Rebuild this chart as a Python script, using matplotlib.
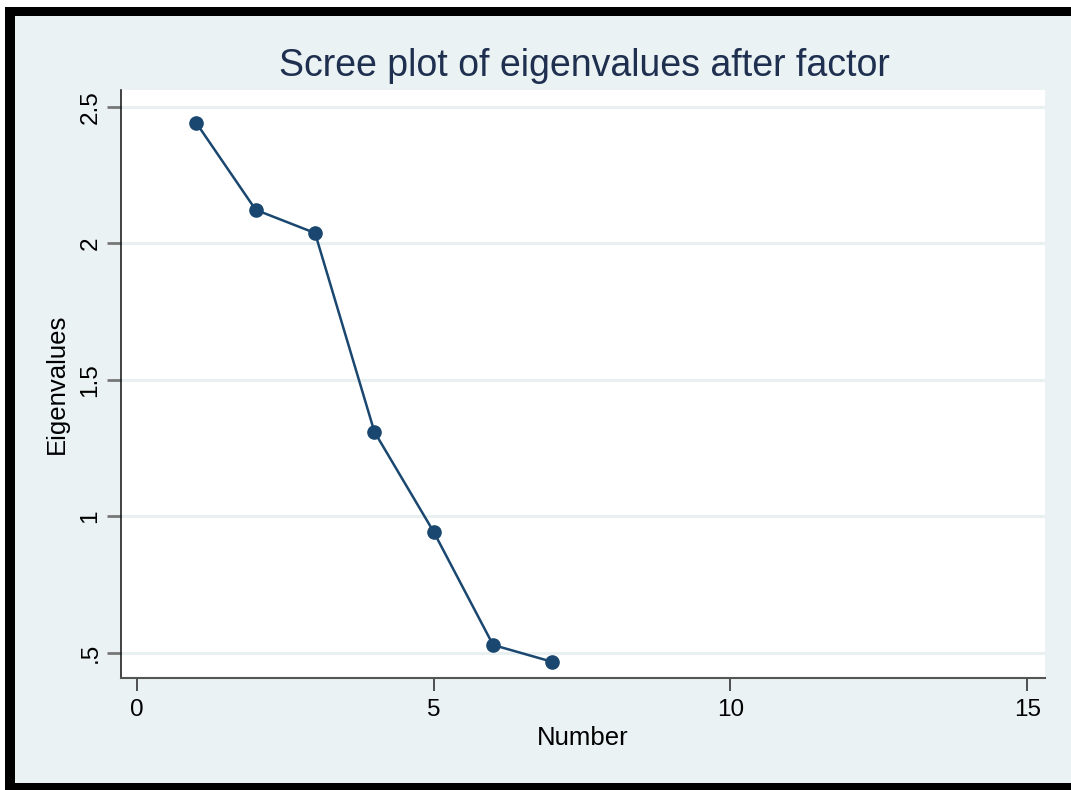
import matplotlib
matplotlib.use("Agg")
import matplotlib.pyplot as plt
from matplotlib.patches import Rectangle

plt.rcParams["font.family"] = ["Liberation Sans", "DejaVu Sans"]

# scree plot values
numbers = [1, 2, 3, 4, 5, 6, 7]
eigenvalues = [2.441, 2.123, 2.038, 1.310, 0.943, 0.529, 0.467]
x_ticks = [0, 5, 10, 15]
y_ticks = [0.5, 1, 1.5, 2, 2.5]
y_tick_labels = [".5", "1", "1.5", "2", "2.5"]

W, H = 1071, 790
bg = "#eaf2f3"
navy = "#1a476f"

fig = plt.figure(figsize=(W / 100, H / 100), dpi=100, facecolor="white")

# light background panel and black frame (top, left, bottom)
fig.patches.append(Rectangle((5 / W, 0), 1 - 5 / W, 1 - 7 / H, transform=fig.transFigure,
                             facecolor=bg, edgecolor="none", zorder=-3))
fig.patches.append(Rectangle((5 / W, 1 - 16 / H), 1 - 5 / W, 9 / H, transform=fig.transFigure,
                             facecolor="black", edgecolor="none", zorder=-2))
fig.patches.append(Rectangle((5 / W, 0), 10 / W, 1 - 7 / H, transform=fig.transFigure,
                             facecolor="black", edgecolor="none", zorder=-2))
fig.patches.append(Rectangle((5 / W, 0), 1 - 5 / W, 7 / H, transform=fig.transFigure,
                             facecolor="black", edgecolor="none", zorder=-2))

ax = fig.add_axes([121 / W, 1 - 678 / H, (1045 - 121) / W, (678 - 90) / H])
ax.set_facecolor("white")

ax.plot(numbers, eigenvalues, color=navy, linewidth=1.8, marker="o",
        markersize=9.5, markerfacecolor=navy, markeredgecolor=navy, zorder=3)

ax.set_xlim(-0.27, 15.3)
ax.set_ylim(0.408, 2.562)

ax.set_xticks(x_ticks)
ax.set_xticklabels([str(t) for t in x_ticks])
ax.set_yticks(y_ticks)
ax.set_yticklabels(y_tick_labels, rotation=90, va="center")

ax.grid(axis="y", color="#e8f0f2", linewidth=2.2)
ax.set_axisbelow(True)

for side in ["top", "right"]:
    ax.spines[side].set_visible(False)
ax.spines["left"].set_color("#222222")
ax.spines["bottom"].set_color("#555555")
ax.spines["left"].set_linewidth(1.2)
ax.spines["bottom"].set_linewidth(1.5)

ax.tick_params(axis="x", length=9, width=1.2, color="#333333", labelsize=17.5, pad=6)
ax.tick_params(axis="y", length=10, width=2, color="#777777", labelsize=17.5, pad=4)

ax.set_xlabel("Number", fontsize=18.5, labelpad=4)
ax.set_ylabel("Eigenvalues", fontsize=18.5, labelpad=8)
fig.text(584 / W, 1 - 66 / H, "Scree plot of eigenvalues after factor",
         ha="center", va="center", fontsize=27, color="#1e2f4f")

fig.savefig("out.png", dpi=100, facecolor=fig.get_facecolor())
